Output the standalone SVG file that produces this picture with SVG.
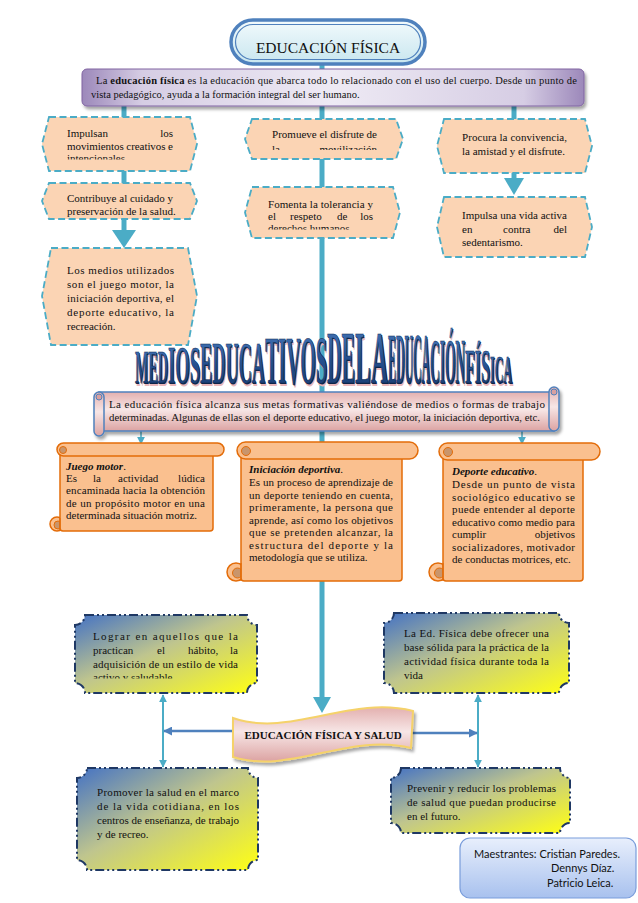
<svg xmlns="http://www.w3.org/2000/svg" width="638" height="903" viewBox="0 0 638 903">
<style>
.t{font-family:"Liberation Serif","Times New Roman","DejaVu Serif",serif;font-size:11px;fill:#111}
.ts{font-family:"Liberation Serif","Times New Roman","DejaVu Serif",serif;font-size:10.5px;fill:#111}
.hex{fill:#FBD4B4;stroke:#4BACC6;stroke-width:1.8;stroke-dasharray:7 3.5}
.plq{fill:url(#plqG);stroke:#1F3864;stroke-width:2;stroke-dasharray:9 3 2 3 2 3}
.oscr{fill:#FAC08F;stroke:#E36C09;stroke-width:1.5}
.curl{fill:#C9956B;stroke:#E36C09;stroke-width:1}
.pscr{fill:url(#pinkG);stroke:#4F81BD;stroke-width:1.5}
.conn{stroke:#4BACC6;stroke-width:5;fill:none}
.thin{stroke:#4BACC6;stroke-width:2;fill:none}
.hz{stroke:#4F81BD;stroke-width:2.5;fill:none}
.wa{font-family:"Liberation Serif","Times New Roman","DejaVu Serif",serif;font-weight:bold}
.sig{font-family:Lato,"Open Sans",sans-serif;font-size:11px;fill:#111}
</style>
<defs>
<linearGradient id="titleG" x1="0" y1="0" x2="0" y2="1"><stop offset="0" stop-color="#F2FAFC"/><stop offset="1" stop-color="#C8E6EF"/></linearGradient>
<linearGradient id="purpG" x1="0" y1="0" x2="1" y2="0"><stop offset="0" stop-color="#9C88BA"/><stop offset="0.12" stop-color="#D6CDE4"/><stop offset="0.5" stop-color="#EEEAF4"/><stop offset="0.88" stop-color="#D6CDE4"/><stop offset="1" stop-color="#9C88BA"/></linearGradient>
<linearGradient id="pinkG" x1="0" y1="0" x2="0" y2="1"><stop offset="0" stop-color="#E3B0AF"/><stop offset="0.45" stop-color="#F7E6E6"/><stop offset="1" stop-color="#DCA3A2"/></linearGradient>
<linearGradient id="plqG" x1="0" y1="0" x2="1" y2="1"><stop offset="0" stop-color="#4472C4"/><stop offset="0.45" stop-color="#BFC58E"/><stop offset="1" stop-color="#FFFF14"/></linearGradient>
<linearGradient id="sigG" x1="0" y1="0" x2="0" y2="1"><stop offset="0" stop-color="#E8EFFC"/><stop offset="1" stop-color="#A8C1EE"/></linearGradient>
<linearGradient id="waG" x1="0" y1="0" x2="0" y2="1"><stop offset="0" stop-color="#4C7FC2"/><stop offset="0.5" stop-color="#25508F"/><stop offset="1" stop-color="#16376A"/></linearGradient>
<filter id="sh" x="-5%" y="-10%" width="115%" height="140%"><feDropShadow dx="2" dy="3" stdDeviation="1.5" flood-color="#000" flood-opacity="0.35"/></filter>
<marker id="ah" viewBox="0 0 10 10" refX="9" refY="5" markerWidth="8" markerHeight="8" markerUnits="userSpaceOnUse" orient="auto-start-reverse"><path d="M0,0 L10,5 L0,10 z" fill="#4BACC6"/></marker>
<marker id="ahD" viewBox="0 0 10 10" refX="9" refY="5" markerWidth="9" markerHeight="9" markerUnits="userSpaceOnUse" orient="auto-start-reverse"><path d="M0,0 L10,5 L0,10 z" fill="#4F81BD"/></marker>
<clipPath id="cL1"><rect x="40" y="117" width="160" height="42.5"/></clipPath>
<clipPath id="cC1"><rect x="240" y="119" width="170" height="31"/></clipPath>
<clipPath id="cC2"><rect x="240" y="187" width="170" height="42.5"/></clipPath>
<clipPath id="cPA"><rect x="75" y="615" width="185" height="63.5"/></clipPath>
<g id="waText" class="wa">
<text x="135" y="383" font-size="47" textLength="33" lengthAdjust="spacingAndGlyphs">MED</text>
<text x="168" y="383" font-size="53" textLength="32" lengthAdjust="spacingAndGlyphs">IOS</text>
<text x="200" y="383" font-size="59" textLength="65" lengthAdjust="spacingAndGlyphs">EDUCA</text>
<text x="265" y="383" font-size="68" textLength="62" lengthAdjust="spacingAndGlyphs">TIVOS</text>
<text x="327" y="383" font-size="74" textLength="28" lengthAdjust="spacingAndGlyphs">DE</text>
<text x="355" y="383" font-size="75" textLength="33" lengthAdjust="spacingAndGlyphs">LA</text>
<text x="388" y="383" font-size="71" textLength="42" lengthAdjust="spacingAndGlyphs">EDUCA</text>
<text x="430" y="383" font-size="63" textLength="35" lengthAdjust="spacingAndGlyphs">CIÓN</text>
<text x="465" y="383" font-size="48" textLength="25" lengthAdjust="spacingAndGlyphs">FÍS</text>
<text x="490" y="383" font-size="41" textLength="22" lengthAdjust="spacingAndGlyphs">ICA</text>
</g>
</defs>
<rect width="638" height="903" fill="#ffffff"/>

<g id="connectors">
<line class="conn" x1="322" y1="62" x2="322" y2="70"/>
<line class="conn" x1="124" y1="104" x2="124" y2="118"/>
<line class="conn" x1="322" y1="104" x2="322" y2="120"/>
<line class="conn" x1="514" y1="104" x2="514" y2="120"/>
<line class="conn" x1="124" y1="170" x2="124" y2="184"/>
<line class="conn" x1="124" y1="218" x2="124" y2="232"/>
<path d="M112,230 L136,230 L124,248 Z" fill="#4BACC6"/>
<line class="conn" x1="322" y1="158" x2="322" y2="188"/>
<line class="conn" x1="514" y1="172" x2="514" y2="180"/>
<path d="M504,178 L524,178 L514,195 Z" fill="#4BACC6"/>
<line class="conn" x1="322" y1="237" x2="322" y2="699"/>
<path d="M313,697 L331,697 L322,713 Z" fill="#4BACC6"/>
<line x1="141" y1="431" x2="141" y2="444" stroke="#4BACC6" stroke-width="1.5" marker-end="url(#ah)"/>
<line x1="522" y1="431" x2="522" y2="444" stroke="#4BACC6" stroke-width="1.5" marker-end="url(#ah)"/>
<line class="thin" x1="163" y1="695" x2="163" y2="767" marker-start="url(#ah)" marker-end="url(#ah)"/>
<line class="thin" x1="478" y1="695" x2="478" y2="767" marker-start="url(#ah)" marker-end="url(#ah)"/>
<line class="hz" x1="236" y1="731" x2="164" y2="731" marker-end="url(#ahD)"/>
<line class="hz" x1="410" y1="733" x2="477" y2="733" marker-end="url(#ahD)"/>
</g>

<g id="title">
<rect x="231" y="20" width="194" height="44" rx="22" fill="url(#titleG)" stroke="#4F81BD" stroke-width="3.5"/>
<rect x="235.5" y="24.5" width="185" height="35" rx="17.5" fill="none" stroke="#4F81BD" stroke-width="1.2"/>
<text x="328" y="52.5" text-anchor="middle" font-family="Liberation Serif, Times New Roman, DejaVu Serif, serif" font-size="15.5" fill="#111">EDUCACIÓN FÍSICA</text>
</g>

<g id="intro">
<rect x="82" y="69" width="502" height="37" rx="5" fill="url(#purpG)" stroke="#8064A2" stroke-width="1" filter="url(#sh)"/>
<text class="ts" x="96" y="84" textLength="481" lengthAdjust="spacing">La <tspan font-weight="bold">educación física</tspan> es la educación que abarca todo lo relacionado con el uso del cuerpo. Desde un punto de</text>
<text class="ts" x="91" y="98">vista pedagógico, ayuda a la formación integral del ser humano.</text>
</g>

<g id="box-l1">
<path class="hex" d="M49,117 H190 L197,144 L190,171 H49 L42,144 Z"/>
<g clip-path="url(#cL1)">
<text class="t" x="67" y="137">Impulsan</text><text class="t" x="173" y="137" text-anchor="end">los</text>
<text class="t" x="67" y="150" textLength="106" lengthAdjust="spacing">movimientos creativos e</text>
<text class="t" x="67" y="162">intencionales</text>
</g>
</g>
<g id="box-l2">
<path class="hex" d="M49,183 H190 L197,201 L190,219 H49 L42,201 Z"/>
<text class="t" x="67" y="202" textLength="106" lengthAdjust="spacing">Contribuye al cuidado y</text>
<text class="t" x="67" y="215">preservación de la salud.</text>
</g>
<g id="box-l3">
<path class="hex" d="M51,248 H188 L197,296 L188,345 H51 L42,296 Z"/>
<text class="t" x="67" y="274" textLength="107" lengthAdjust="spacing">Los medios utilizados</text>
<text class="t" x="67" y="288" textLength="107" lengthAdjust="spacing">son el juego motor, la</text>
<text class="t" x="67" y="302" textLength="107" lengthAdjust="spacing">iniciación deportiva, el</text>
<text class="t" x="67" y="316" textLength="107" lengthAdjust="spacing">deporte educativo, la</text>
<text class="t" x="67" y="330">recreación.</text>
</g>
<g id="box-c1">
<path class="hex" d="M252,119 H396 L403,139 L396,159 H252 L245,139 Z"/>
<g clip-path="url(#cC1)">
<text class="t" x="272" y="138" textLength="105" lengthAdjust="spacing">Promueve el disfrute de</text>
<text class="t" x="272" y="152.5">la</text><text class="t" x="377" y="152.5" text-anchor="end">movilización</text>
</g>
</g>
<g id="box-c2">
<path class="hex" d="M252,187 H393 L400,212.5 L393,238 H252 L245,212.5 Z"/>
<g clip-path="url(#cC2)">
<text class="t" x="268" y="208" textLength="105" lengthAdjust="spacing">Fomenta la tolerancia y</text>
<text class="t" x="268" y="220">el</text><text class="t" x="290" y="220">respeto</text><text class="t" x="337" y="220">de</text><text class="t" x="373" y="220" text-anchor="end">los</text>
<text class="t" x="268" y="232">derechos humanos</text>
</g>
</g>
<g id="box-r1">
<path class="hex" d="M444,119 H585 L592,146 L585,173 H444 L437,146 Z"/>
<text class="t" x="462" y="141" textLength="105" lengthAdjust="spacing">Procura la convivencia,</text>
<text class="t" x="462" y="155">la amistad y el disfrute.</text>
</g>
<g id="box-r2">
<path class="hex" d="M444,197 H585 L592,227 L585,257 H444 L437,227 Z"/>
<text class="t" x="462" y="219" textLength="105" lengthAdjust="spacing">Impulsa una vida activa</text>
<text class="t" x="462" y="232.5">en</text><text class="t" x="503" y="232.5">contra</text><text class="t" x="567" y="232.5" text-anchor="end">del</text>
<text class="t" x="462" y="246">sedentarismo.</text>
</g>

<g id="wordart">
<use href="#waText" fill="#E9B7BA" transform="translate(1.5,2.5)"/>
<use href="#waText" fill="#0E2448" transform="translate(0.8,1.2)"/>
<use href="#waText" fill="url(#waG)" stroke="#0E2448" stroke-width="0.4"/>
</g>

<g id="intro2" filter="url(#sh)">
<rect class="pscr" x="99" y="392" width="455" height="39"/>
<rect class="pscr" x="94" y="392" width="10" height="44" rx="5"/>
<rect class="pscr" x="549" y="387" width="10" height="44" rx="5"/>
<circle cx="99" cy="397" r="3" fill="#D9A0A0" stroke="#4F81BD" stroke-width="1"/>
<circle cx="554" cy="392" r="3" fill="#D9A0A0" stroke="#4F81BD" stroke-width="1"/>
</g>
<g id="intro2-text">
<text class="t" x="109" y="408" textLength="436" lengthAdjust="spacing">La educación física alcanza sus metas formativas valiéndose de medios o formas de trabajo</text>
<text class="t" x="109" y="421" textLength="431" lengthAdjust="spacingAndGlyphs">determinadas. Algunas de ellas son el deporte educativo, el juego motor, la iniciación deportiva, etc.</text>
</g>

<g id="scroll-juego">
<circle class="oscr" cx="57" cy="524" r="7"/>
<circle class="curl" cx="58" cy="525" r="4"/>
<rect class="oscr" x="60" y="449" width="153" height="82" rx="3"/>
<path d="M60,518 V531" stroke="#E36C09" stroke-width="1.2"/>
<rect class="oscr" x="57" y="443" width="167" height="13" rx="6.5"/>
<circle class="curl" cx="63" cy="450" r="3.5"/>
<text class="t" x="66" y="470" font-weight="bold" font-style="italic">Juego motor<tspan font-weight="normal" font-style="normal">.</tspan></text>
<text class="t" x="66" y="482">Es</text><text class="t" x="93" y="482">la</text><text class="t" x="118" y="482">actividad</text><text class="t" x="205" y="482" text-anchor="end">lúdica</text>
<text class="t" x="66" y="494" textLength="139" lengthAdjust="spacing">encaminada hacia la obtención</text>
<text class="t" x="66" y="506.5" textLength="139" lengthAdjust="spacing">de un propósito motor en una</text>
<text class="t" x="66" y="519">determinada situación motriz.</text>
</g>

<g id="scroll-iniciacion">
<circle class="oscr" cx="236" cy="572" r="9"/>
<circle class="curl" cx="237.5" cy="573" r="5"/>
<rect class="oscr" x="241" y="450" width="161" height="131" rx="3"/>
<path d="M241,563 V581" stroke="#E36C09" stroke-width="1.2"/>
<rect class="oscr" x="237" y="442" width="181" height="17" rx="8.5"/>
<circle class="curl" cx="246" cy="451" r="4.5"/>
<text class="t" x="249" y="473" font-weight="bold" font-style="italic">Iniciación deportiva<tspan font-weight="normal" font-style="normal">.</tspan></text>
<text class="t" x="249" y="486" textLength="144" lengthAdjust="spacing">Es un proceso de aprendizaje de</text>
<text class="t" x="249" y="498.5" textLength="144" lengthAdjust="spacing">un deporte teniendo en cuenta,</text>
<text class="t" x="249" y="511" textLength="144" lengthAdjust="spacing">primeramente, la persona que</text>
<text class="t" x="249" y="523.5" textLength="144" lengthAdjust="spacing">aprende, así como los objetivos</text>
<text class="t" x="249" y="536" textLength="144" lengthAdjust="spacing">que se pretenden alcanzar, la</text>
<text class="t" x="249" y="548.5" textLength="144" lengthAdjust="spacing">estructura del deporte y la</text>
<text class="t" x="249" y="561">metodología que se utiliza.</text>
</g>

<g id="scroll-deporte">
<circle class="oscr" cx="438" cy="572" r="9"/>
<circle class="curl" cx="439.5" cy="573" r="5"/>
<rect class="oscr" x="443" y="451" width="140" height="130" rx="3"/>
<path d="M443,563 V581" stroke="#E36C09" stroke-width="1.2"/>
<rect class="oscr" x="439" y="443" width="161" height="17" rx="8.5"/>
<circle class="curl" cx="448" cy="452" r="4.5"/>
<text class="t" x="452" y="475" font-weight="bold" font-style="italic">Deporte educativo<tspan font-weight="normal" font-style="normal">.</tspan></text>
<text class="t" x="452" y="488" textLength="123" lengthAdjust="spacing">Desde un punto de vista</text>
<text class="t" x="452" y="500.5" textLength="123" lengthAdjust="spacing">sociológico educativo se</text>
<text class="t" x="452" y="513" textLength="123" lengthAdjust="spacing">puede entender al deporte</text>
<text class="t" x="452" y="525.5" textLength="123" lengthAdjust="spacing">educativo como medio para</text>
<text class="t" x="452" y="538">cumplir</text><text class="t" x="575" y="538" text-anchor="end">objetivos</text>
<text class="t" x="452" y="550.5" textLength="123" lengthAdjust="spacing">socializadores, motivador</text>
<text class="t" x="452" y="563">de conductas motrices, etc.</text>
</g>

<g id="box-habito">
<path class="plq" d="M85,615 H247 A10,10 0 0 0 257,625 V683 A10,10 0 0 0 247,693 H85 A10,10 0 0 0 75,683 V625 A10,10 0 0 0 85,615 Z"/>
<g clip-path="url(#cPA)">
<text class="t" x="93" y="640" textLength="145" lengthAdjust="spacing">Lograr en aquellos que la</text>
<text class="t" x="93" y="654">practican</text><text class="t" x="157" y="654">el</text><text class="t" x="188" y="654">hábito,</text><text class="t" x="238" y="654" text-anchor="end">la</text>
<text class="t" x="93" y="667.5" textLength="145" lengthAdjust="spacing">adquisición de un estilo de vida</text>
<text class="t" x="93" y="681">activo y saludable.</text>
</g>
</g>
<g id="box-base">
<path class="plq" d="M394,613 H559 A10,10 0 0 0 569,623 V683 A10,10 0 0 0 559,693 H394 A10,10 0 0 0 384,683 V623 A10,10 0 0 0 394,613 Z"/>
<text class="t" x="404" y="637" textLength="145" lengthAdjust="spacing">La Ed. Física debe ofrecer una</text>
<text class="t" x="404" y="651" textLength="145" lengthAdjust="spacing">base sólida para la práctica de la</text>
<text class="t" x="404" y="665" textLength="145" lengthAdjust="spacing">actividad física durante toda la</text>
<text class="t" x="404" y="679">vida</text>
</g>

<g id="banner" filter="url(#sh)">
<path d="M233,718 C290,738 350,695 413,711 L411,748 C350,732 290,775 233,757 Z" fill="url(#pinkG)" stroke="#F5D26A" stroke-width="2"/>
</g>
<g id="banner-text">
<text x="323" y="739" text-anchor="middle" font-family="Liberation Serif, Times New Roman, DejaVu Serif, serif" font-size="11" font-weight="bold" fill="#111">EDUCACIÓN FÍSICA Y SALUD</text>
</g>

<g id="box-promover">
<path class="plq" d="M87,768 H248 A10,10 0 0 0 258,778 V860 A10,10 0 0 0 248,870 H87 A10,10 0 0 0 77,860 V778 A10,10 0 0 0 87,768 Z"/>
<text class="t" x="97" y="796" textLength="142" lengthAdjust="spacing">Promover la salud en el marco</text>
<text class="t" x="97" y="810" textLength="142" lengthAdjust="spacing">de la vida cotidiana, en los</text>
<text class="t" x="97" y="824" textLength="142" lengthAdjust="spacing">centros de enseñanza, de trabajo</text>
<text class="t" x="97" y="838">y de recreo.</text>
</g>
<g id="box-prevenir">
<path class="plq" d="M401,768 H560 A10,10 0 0 0 570,778 V823 A10,10 0 0 0 560,833 H401 A10,10 0 0 0 391,823 V778 A10,10 0 0 0 401,768 Z"/>
<text class="t" x="407" y="792" textLength="149" lengthAdjust="spacing">Prevenir y reducir los problemas</text>
<text class="t" x="407" y="806" textLength="149" lengthAdjust="spacing">de salud que puedan producirse</text>
<text class="t" x="407" y="819.5">en el futuro.</text>
</g>

<g id="authors">
<rect x="460" y="838" width="176" height="60" rx="10" fill="url(#sigG)" stroke="#7A9DDB" stroke-width="1.2"/>
<text class="sig" x="474" y="858" textLength="146" lengthAdjust="spacingAndGlyphs">Maestrantes: Cristian Paredes.</text>
<text class="sig" x="551" y="872">Dennys Díaz.</text>
<text class="sig" x="547" y="887">Patricio Leica.</text>
</g>
</svg>
